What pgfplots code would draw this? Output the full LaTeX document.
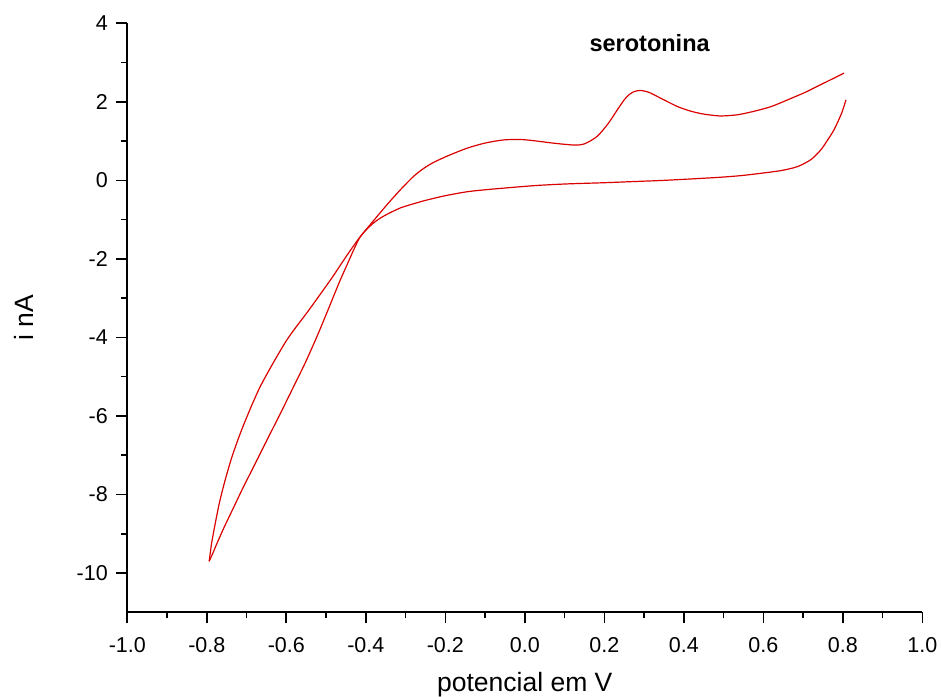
\documentclass[border=0pt]{standalone}
\usepackage{pgfplots}
\pgfplotsset{compat=1.18}
\usepackage{fontspec}
\setmainfont{Liberation Sans}
\definecolor{cvred}{RGB}{218,0,0}
\begin{document}
\begin{tikzpicture}
\begin{axis}[
  scale only axis,
  width=795bp, height=589bp,
  xmin=-1, xmax=1, ymin=-11, ymax=4,
  axis x line*=bottom, axis y line*=left,
  axis line style={line width=1.8bp},
  every tick/.style={line width=1.6bp, black},
  tick align=outside,
  major tick length=11bp, minor tick length=6bp,
  xtick={-1,-0.8,-0.6,-0.4,-0.2,0,0.2,0.4,0.6,0.8,1},
  ytick={-10,-8,-6,-4,-2,0,2,4},
  minor x tick num=1, minor y tick num=1,
  /pgf/number format/assume math mode=true,
  ticklabel style={font=\fontsize{21.5bp}{25bp}\selectfont},
  xticklabel style={yshift=-11bp, /pgf/number format/fixed, /pgf/number format/fixed zerofill, /pgf/number format/precision=1},
  yticklabel style={xshift=-5bp},
  xlabel={potencial em V},
  ylabel={i nA},
  label style={font=\fontsize{26.5bp}{30bp}\selectfont},
  xlabel style={at={(axis description cs:0.5,-0.134)}, anchor=base},
  ylabel style={at={(axis description cs:-0.1182,0.5)}, anchor=base, rotate=0},
  clip=false,
]
\addplot[cvred, line width=1.2bp, smooth, tension=0.45] coordinates {
(0.808,2.05)(0.797,1.71)(0.778,1.29)(0.760,1.00)(0.745,0.78)(0.720,0.53)
(0.686,0.35)(0.645,0.25)(0.594,0.18)(0.543,0.12)(0.493,0.08)(0.443,0.05)
(0.35,0.00)(0.275,-0.03)(0.2,-0.06)(0.107,-0.09)(0.03,-0.13)(-0.044,-0.19)
(-0.10,-0.24)(-0.145,-0.29)(-0.20,-0.39)(-0.25,-0.51)(-0.271,-0.57)
(-0.31,-0.69)(-0.338,-0.82)(-0.36,-0.94)(-0.38,-1.08)(-0.40,-1.27)
(-0.415,-1.45)(-0.43,-1.76)(-0.445,-2.10)(-0.466,-2.58)(-0.485,-3.05)
(-0.504,-3.52)(-0.523,-3.98)(-0.552,-4.64)(-0.582,-5.26)(-0.615,-5.94)
(-0.649,-6.62)(-0.678,-7.21)(-0.708,-7.81)(-0.733,-8.34)(-0.758,-8.87)
(-0.775,-9.26)(-0.785,-9.50)(-0.794,-9.70)
};
\addplot[cvred, line width=1.2bp, smooth, tension=0.45] coordinates {
(-0.794,-9.70)(-0.788,-9.25)(-0.779,-8.75)(-0.768,-8.20)(-0.754,-7.64)
(-0.737,-7.05)(-0.716,-6.45)(-0.692,-5.85)(-0.666,-5.26)(-0.633,-4.65)
(-0.599,-4.07)(-0.575,-3.73)(-0.548,-3.37)(-0.523,-3.02)(-0.485,-2.48)
(-0.464,-2.16)(-0.44,-1.80)(-0.415,-1.45)(-0.38,-1.02)(-0.345,-0.60)
(-0.313,-0.24)(-0.280,0.10)(-0.255,0.30)(-0.229,0.46)(-0.19,0.64)
(-0.145,0.82)(-0.10,0.95)(-0.053,1.03)(-0.01,1.04)(0.023,1.01)(0.07,0.95)
(0.123,0.90)(0.15,0.93)(0.182,1.12)(0.21,1.45)(0.233,1.80)(0.250,2.05)
(0.262,2.18)(0.275,2.26)(0.291,2.29)(0.31,2.25)(0.325,2.18)(0.35,2.05)
(0.384,1.88)(0.415,1.77)(0.443,1.70)(0.47,1.66)(0.495,1.64)(0.535,1.67)
(0.577,1.76)(0.620,1.88)(0.661,2.05)(0.705,2.24)(0.745,2.44)(0.775,2.59)
(0.803,2.73)
};
\node[anchor=base, font=\fontsize{23.5bp}{27bp}\selectfont\bfseries] at (axis cs:0.314,3.29) {serotonina};
\end{axis}
\pgfresetboundingbox
\path (current axis.south west) ++(-127.3bp,-84.7bp) rectangle ++(941bp,697bp);
\end{tikzpicture}
\end{document}
